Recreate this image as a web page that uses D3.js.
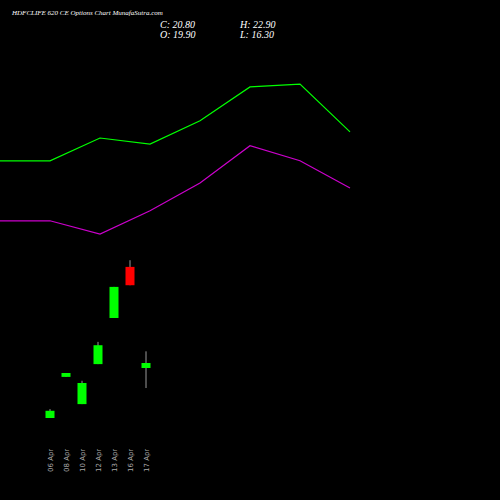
<!DOCTYPE html>
<html><head><script src="https://cdn.jsdelivr.net/npm/d3@7"></script>
<style>body{margin:0;background:#000}</style></head>
<body><script>
const dates = ['06 Apr','08 Apr','10 Apr','12 Apr','13 Apr','16 Apr','17 Apr'];
const opens = [10.9, 18.3, 13.4, 20.6, 28.9, 38.1, 19.9];
const closes = [12.2, 19.0, 17.2, 24.0, 34.5, 34.8, 20.8];
const highs = [12.5, 19.0, 17.6, 24.6, 34.5, 39.3, 22.9];
const lows = [10.9, 18.3, 13.4, 20.6, 28.9, 34.8, 16.3];
const upperBand = [57.2, 57.2, 61.3, 60.2, 64.4, 70.5, 71.0, 62.4];
const lowerBand = [46.4, 46.4, 44.0, 48.2, 53.2, 59.9, 57.2, 52.3];

const svg = d3.select('body').append('svg').attr('width', 500).attr('height', 500)
    .style('background', '#000');
const y = d3.scaleLinear().domain([20.8, -3.86]).range([363, 500]);
const x = d3.scaleLinear().domain([0, 6]).range([50, 146]);
const xl = d3.scaleLinear().domain([0, 7]).range([0, 350]);

const line = d3.line().x((d, i) => xl(i)).y(d => y(d));
svg.append('path').attr('d', line(upperBand)).attr('fill', 'none').attr('stroke', '#00ff00').attr('stroke-width', 1.2);
svg.append('path').attr('d', line(lowerBand)).attr('fill', 'none').attr('stroke', '#cc00cc').attr('stroke-width', 1.2);

dates.forEach((d, i) => {
    const up = closes[i] >= opens[i];
    const col = up ? '#00ff00' : '#ff0000';
    svg.append('line').attr('x1', x(i)).attr('x2', x(i))
        .attr('y1', y(highs[i])).attr('y2', y(lows[i])).attr('stroke', '#999');
    const top = y(Math.max(opens[i], closes[i])), bot = y(Math.min(opens[i], closes[i]));
    svg.append('rect').attr('x', x(i) - 4.5).attr('width', 9)
        .attr('y', top).attr('height', Math.max(bot - top, 2)).attr('fill', col);
    svg.append('text').attr('transform', `translate(${x(i) + 3},472) rotate(-90)`)
        .attr('fill', '#aaa').attr('font-size', 7).attr('font-family', 'DejaVu Sans').text(d);
});

const serif = 'Liberation Serif';
svg.append('text').attr('x', 12).attr('y', 15).attr('fill', '#fff').attr('font-size', 7)
    .attr('font-style', 'italic').attr('font-family', serif).text('HDFCLIFE 620  CE Options  Chart MunafaSutra.com');
[['C: 20.80', 160, 28], ['O: 19.90', 160, 38], ['H: 22.90', 240, 28], ['L: 16.30', 240, 38]].forEach(t =>
    svg.append('text').attr('x', t[1]).attr('y', t[2]).attr('fill', '#fff').attr('font-size', 10)
        .attr('font-style', 'italic').attr('font-family', serif).text(t[0]));
</script></body></html>
